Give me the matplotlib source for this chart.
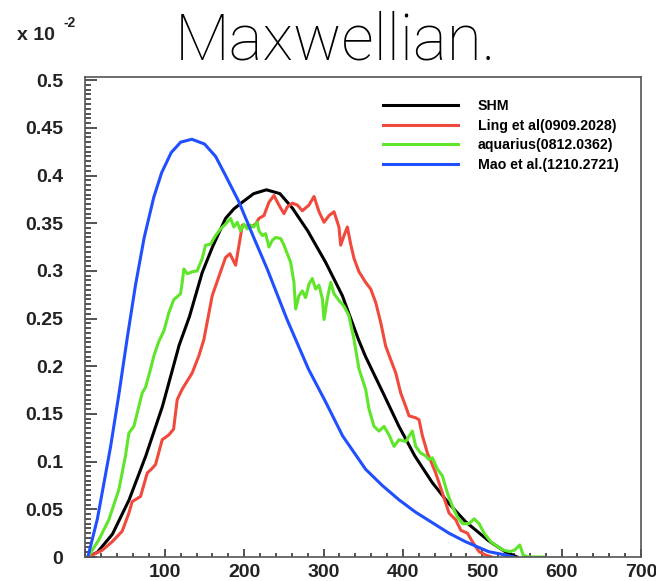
import matplotlib
matplotlib.use('Agg')
import matplotlib.pyplot as plt
from matplotlib.ticker import MultipleLocator, FuncFormatter

# speed distributions, values in units of 1e-2
shm_v = [3, 15, 34, 55, 76, 97, 118, 131, 147, 160, 176.5, 187, 197.6, 212, 228, 245, 260.6,
         280, 302.6, 323.7, 344, 353, 375, 395, 415, 437, 458, 479, 508, 530, 544]
shm_f = [0, .005, .024, .060, .106, .158, .222, .252, .298, .325, .355, .365, .372, .381, .385,
         .381, .366, .342, .309, .274, .228, .210, .172, .137, .106, .078, .056, .037, .017, .005, 0]

ling_v = [3, 21, 33.6, 46.2, 54.7, 58.8, 69.4, 77.8, 84.1, 88.3, 96.7, 105, 111, 115.6, 121.9,
          134.5, 142.9, 149.2, 159.7, 176.5, 182, 189.2, 195.5, 197.6, 208, 214.4, 218.6, 224.9,
          231.2, 237.5, 243.8, 250.1, 254.3, 260.6, 267, 273.3, 281.6, 288, 294.3, 300.6, 306.9,
          313.2, 319.4, 321.6, 325.8, 330, 334.2, 338.4, 344.7, 353, 359.4, 365.7, 372, 378.3,
          384.6, 391, 397.2, 403.5, 407.7, 416, 420.3, 424.6, 430.9, 441.4, 449.8, 458.2, 466.6,
          473, 481.3, 487.6, 496, 504.4, 512]
ling_f = [0, .007, .016, .027, .046, .058, .0635, .088, .093, .097, .123, .128, .134, .165, .176,
          .193, .211, .228, .274, .314, .318, .306, .337, .348, .346, .349, .355, .358,
          .372, .379, .369, .360, .367, .371, .369, .363, .369, .378, .362, .351, .358,
          .362, .346, .327, .337, .346, .328, .313, .299, .288, .281, .267, .246, .221,
          .207, .193, .172, .158, .148, .146, .144, .127, .109, .088, .067, .046, .039,
          .028, .025, .016, .0056, .002, 0]

aq_v = [3, 16.8, 29.4, 42, 50.4, 54.7, 61, 67.3, 71.5, 75.7, 82, 86.2, 92.4, 98.8, 105, 111.4,
        119.8, 121.9, 124, 128.2, 134.5, 140.8, 147.1, 151.3, 157.6, 163.9, 170.2, 176.5, 182.9,
        187, 191.3, 195.5, 199.6, 203.9, 208, 212.2, 216.5, 218.6, 222.8, 227, 231.2, 235.4,
        239.6, 245.9, 250.1, 254.3, 258.5, 262.7, 264.8, 269, 273.3, 277.4, 281.6, 285.8, 290,
        294.2, 298.5, 300.6, 304.8, 309, 313.2, 319.4, 325.8, 332, 338.4, 344.7, 353, 357.3,
        363.6, 369.9, 376.2, 382.5, 388.8, 395.1, 403.5, 411.9, 416.1, 422.4, 428.8, 433, 437.2,
        443.5, 449.8, 456.1, 462.4, 468.7, 475, 483.4, 489.7, 496, 502.3, 510.7, 519.2, 526,
        534.7, 541, 547.3, 551.5, 557.8, 577]
aq_f = [0, .018, .039, .0705, .106, .130, .137, .158, .172, .178, .197, .211, .226, .237, .256,
        .270, .276, .288, .302, .297, .299, .300, .313, .327, .328, .337, .344, .349, .355,
        .346, .351, .342, .349, .344, .348, .346, .351, .342, .337, .339, .325, .332,
        .335, .334, .327, .318, .309, .288, .260, .274, .279, .272, .286, .292, .281,
        .285, .271, .249, .271, .288, .276, .269, .263, .253, .228, .197, .176, .155,
        .137, .132, .137, .128, .116, .123, .121, .132, .116, .109, .106, .102, .104,
        .092, .085, .067, .053, .042, .035, .035, .040, .035, .025, .016, .011, .0074,
        .0056, .0074, .0126, .002, 0, 0]

mao_v = [3, 15, 31.5, 42, 52.5, 63, 74, 86, 96, 108, 120, 134, 150, 164, 176.5, 193, 211, 229,
         254, 281, 303, 324, 353, 374, 395, 416, 437, 458, 479, 508, 530, 540]
mao_f = [0, .04, .115, .17, .229, .285, .335, .377, .403, .424, .435, .438, .433, .420, .400,
         .373, .337, .302, .249, .197, .162, .127, .092, .075, .060, .047, .036, .025, .016,
         .0056, .002, 0]

labels = ['SHM', 'Ling et al(0909.2028)', 'aquarius(0812.0362)', 'Mao et al.(1210.2721)']
colors = ['black', '#f04a3c', '#5fe52a', '#1f4fff']

fig = plt.figure(figsize=(6.56, 5.81), dpi=100)
ax = fig.add_axes([0.1303, 0.0413, 0.9771 - 0.1303, 0.8675 - 0.0413])

for v, f, lab, c in zip([shm_v, ling_v, aq_v, mao_v], [shm_f, ling_f, aq_f, mao_f], labels, colors):
    ax.plot(v, f, color=c, lw=2.2, label=lab, solid_joinstyle='round')

ax.set_xlim(0, 700)
ax.set_ylim(0, 0.5033)

ax.xaxis.set_major_locator(MultipleLocator(100))
ax.xaxis.set_minor_locator(MultipleLocator(20))
ax.yaxis.set_major_locator(MultipleLocator(0.05))
ax.yaxis.set_minor_locator(MultipleLocator(0.005))
ax.xaxis.set_major_formatter(FuncFormatter(lambda x, p: '' if x == 0 else '%d' % x))
ax.yaxis.set_major_formatter(FuncFormatter(lambda y, p: '0' if y == 0 else ('%.2f' % y).rstrip('0')))

ax.tick_params(which='both', direction='in', top=False, right=False, color='#333333', width=1.2)
ax.tick_params(axis='x', which='major', length=6, pad=5)
ax.tick_params(axis='x', which='minor', length=3)
ax.tick_params(axis='y', which='major', length=8.5, pad=16)
ax.tick_params(axis='y', which='minor', length=4.5)
for lab in ax.get_xticklabels() + ax.get_yticklabels():
    lab.set_fontfamily('Liberation Sans')
    lab.set_fontweight('bold')
    lab.set_fontsize(14)
    lab.set_color('#222222')
for sp in ax.spines.values():
    sp.set_color('#555555')
    sp.set_linewidth(1.2)

ax.legend(loc='upper left', bbox_to_anchor=(0.535, 0.954), frameon=False, borderpad=0,
          borderaxespad=0, handlelength=5.3, handletextpad=1.4, labelspacing=0.4,
          prop={'family': 'Liberation Sans', 'weight': 'bold', 'size': 10.2})

fig.text(0.512, 1 - 60 / 581, 'Maxwellian.', ha='center', va='baseline',
         fontsize=46, fontfamily='Roboto', fontweight='light')
fig.text(17 / 656, 1 - 36 / 581, 'x 10', ha='left', va='center', fontsize=14,
         fontfamily='Liberation Sans', fontweight='bold', color='#222222')
fig.text(63 / 656, 1 - 23 / 581, '-2', ha='left', va='center', fontsize=10,
         fontfamily='Liberation Sans', fontweight='bold', color='#222222')

fig.savefig('out.png', dpi=100)
